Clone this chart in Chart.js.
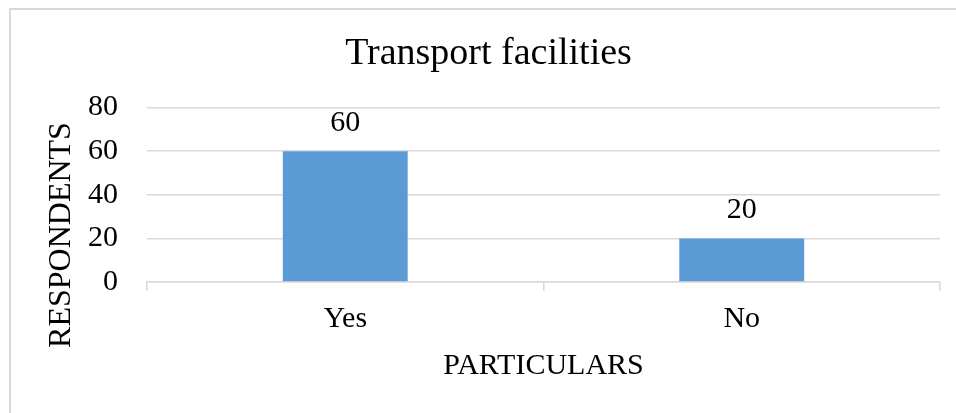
<!DOCTYPE html>
<html lang="en">
<head>
    <meta charset="UTF-8">
    <title>Transport facilities</title>
    <script src="https://cdn.jsdelivr.net/npm/chart.js"></script>
    <style>
        html, body { margin: 0; padding: 0; background: #fff; overflow: hidden; }
        #wrap { position: relative; width: 956px; height: 413px; }
        #frame {
            position: absolute; left: 9px; top: 8px; width: 960px; height: 420px;
            border: 2px solid #d9d9d9; box-sizing: border-box;
        }
        canvas { position: absolute; left: 0; top: 0; }
    </style>
</head>
<body>
<div id="wrap">
    <div id="frame"></div>
    <canvas id="transportChart" width="956" height="413"></canvas>
</div>
<script>
    const categories = ['Yes', 'No'];
    const respondents = [60, 20];
    const yTicks = [0, 20, 40, 60, 80];

    const serif = "'Liberation Serif', 'Times New Roman', serif";

    // value labels above bars + rotated y title
    const extras = {
        id: 'extras',
        afterDatasetsDraw(chart) {
            const ctx = chart.ctx;
            ctx.save();
            ctx.fillStyle = '#000';
            ctx.font = '30px ' + serif;
            ctx.textAlign = 'center';
            ctx.textBaseline = 'middle';
            chart.getDatasetMeta(0).data.forEach((bar, i) => {
                ctx.fillText(String(respondents[i]), bar.x, bar.y - 28);
            });
            ctx.translate(62, 235);
            ctx.rotate(-Math.PI / 2);
            ctx.font = '32px ' + serif;
            ctx.fillText('RESPONDENTS', 0, 0);
            ctx.restore();
        }
    };

    const ctx = document.getElementById('transportChart').getContext('2d');
    new Chart(ctx, {
        type: 'bar',
        data: {
            labels: categories,
            datasets: [{
                label: 'Respondents',
                data: respondents,
                backgroundColor: '#5b9bd5',
                borderWidth: 0,
                barPercentage: 0.315,
                categoryPercentage: 1
            }]
        },
        options: {
            responsive: false,
            animation: false,
            layout: { padding: { left: 37, right: 16, top: 0, bottom: 0 } },
            scales: {
                y: {
                    min: 0,
                    max: 80,
                    afterFit: s => { s.width = 110; },
                    afterBuildTicks: s => { s.ticks = yTicks.map(v => ({ value: v })); },
                    border: { display: false },
                    grid: { color: '#d9d9d9', lineWidth: 1.5, drawTicks: false },
                    ticks: { color: '#000', padding: 29, font: { family: serif, size: 30 } }
                },
                x: {
                    afterFit: s => { s.height = 131; },
                    border: { color: '#d9d9d9', width: 1.5 },
                    grid: { color: '#d9d9d9', lineWidth: 1.5, drawOnChartArea: false, tickLength: 9, offset: true },
                    ticks: { color: '#000', padding: 10, font: { family: serif, size: 30 } },
                    title: {
                        display: true,
                        text: 'PARTICULARS',
                        color: '#000',
                        padding: { top: 0, bottom: 29 },
                        font: { family: serif, size: 30 }
                    }
                }
            },
            plugins: {
                legend: { display: false },
                tooltip: { enabled: false },
                title: {
                    display: true,
                    text: 'Transport facilities',
                    color: '#000',
                    font: { family: serif, size: 38, weight: 'normal' },
                    padding: { top: 31, bottom: 31 }
                }
            }
        },
        plugins: [extras]
    });
</script>
</body>
</html>
